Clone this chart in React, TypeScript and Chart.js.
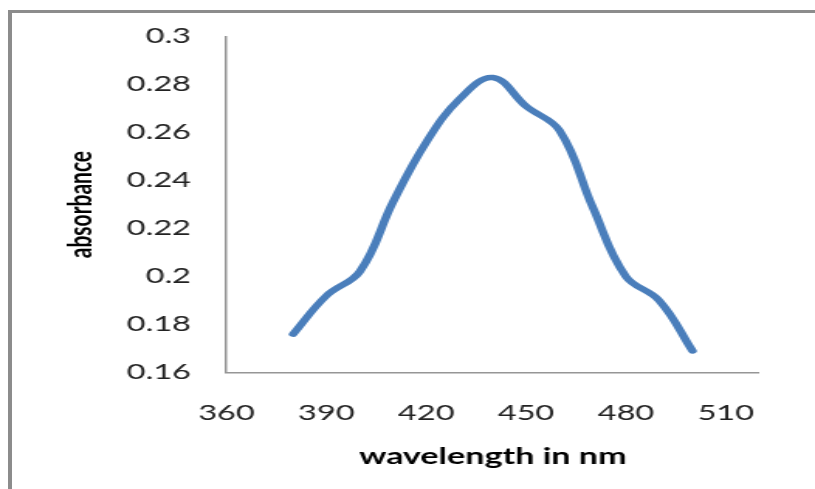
import React, { useEffect, useRef } from "react";
import { Chart, registerables } from "chart.js";

Chart.register(...registerables);

// ---- data ----
const wavelengths = [380, 390, 400, 410, 420, 430, 440, 450, 460, 470, 480, 490, 500];
const absorbance = [0.176, 0.192, 0.202, 0.231, 0.256, 0.274, 0.283, 0.271, 0.261, 0.229, 0.2, 0.19, 0.169];
const xTicks = [360, 390, 420, 450, 480, 510];
const xTickLabels = ["360", "390", "420", "450", "480", "510"];
const yTicks = [0.16, 0.18, 0.2, 0.22, 0.24, 0.26, 0.28, 0.3];
const yTickLabels = ["0.16", "0.18", "0.2", "0.22", "0.24", "0.26", "0.28", "0.3"];
const xTitle = "wavelength in nm";
const yTitle = "absorbance";

// the reference picture is horizontally stretched; render narrow and stretch
const W = 526;
const H = 489;
const STRETCH = 815 / W;
const FONT = "Lato, 'Open Sans', sans-serif";

export default function App() {
  const ref = useRef<HTMLCanvasElement | null>(null);

  useEffect(() => {
    if (!ref.current) return;
    const chart = new Chart(ref.current, {
      type: "line",
      data: {
        datasets: [
          {
            label: yTitle,
            data: wavelengths.map((x, i) => ({ x, y: absorbance[i] })),
            borderColor: "#4a7ebb",
            backgroundColor: "#4a7ebb",
            borderWidth: 5.5,
            borderCapStyle: "round",
            borderJoinStyle: "round",
            pointRadius: 0,
            tension: 0.4,
            fill: false,
          },
        ],
      },
      options: {
        animation: false,
        responsive: true,
        maintainAspectRatio: false,
        layout: { padding: { left: 0, right: 36.1, top: 36.7, bottom: 0 } },
        plugins: {
          legend: { display: false },
          tooltip: { enabled: false },
          title: { display: false },
        },
        scales: {
          x: {
            type: "linear",
            position: "bottom",
            min: 360,
            max: 520,
            afterBuildTicks: (s: any) => {
              s.ticks = xTicks.map((v) => ({ value: v }));
            },
            afterFit: (s: any) => {
              s.height = 116.5;
            },
            ticks: {
              autoSkip: false,
              maxRotation: 0,
              padding: 28.6,
              color: "#222",
              font: { family: FONT, size: 21 },
              callback: (v: any) => xTickLabels[xTicks.indexOf(Number(v))] ?? "",
            },
            grid: { display: false, drawTicks: false },
            border: { display: true, color: "#969696", width: 1.5 },
            title: {
              display: true,
              text: xTitle,
              color: "#000",
              font: { family: FONT, size: 22, weight: "bold" },
              padding: { top: 0, bottom: 18.6 },
            },
          },
          y: {
            type: "linear",
            min: 0.16,
            max: 0.3,
            afterBuildTicks: (s: any) => {
              s.ticks = yTicks.map((v) => ({ value: v }));
            },
            afterFit: (s: any) => {
              s.width = 146.2;
            },
            ticks: {
              autoSkip: false,
              padding: 22.9,
              color: "#222",
              font: { family: FONT, size: 21 },
              callback: (v: any) => yTickLabels[yTicks.indexOf(Number(v))] ?? "",
            },
            grid: { display: false, drawTicks: false },
            border: { display: true, color: "#969696", width: 1.5 },
            title: {
              display: true,
              text: yTitle,
              color: "#000",
              font: { family: FONT, size: 21, weight: "bold" },
              padding: { top: 40, bottom: 0 },
            },
          },
        },
      },
    });
    return () => chart.destroy();
  }, []);

  return (
    <div
      style={{
        position: "fixed",
        left: 0,
        top: 0,
        width: 815,
        height: 489,
        overflow: "hidden",
        background: "#fff",
      }}
    >
      <div
        style={{
          position: "absolute",
          left: 8,
          top: 10,
          width: 830,
          height: 520,
          boxSizing: "border-box",
          borderLeft: "4px solid #8c8c8c",
          borderTop: "3px solid #8c8c8c",
        }}
      />
      <div
        style={{
          position: "absolute",
          left: 0,
          top: 0,
          width: W,
          height: H,
          transform: `scaleX(${STRETCH})`,
          transformOrigin: "0 0",
        }}
      >
        <canvas ref={ref} />
      </div>
    </div>
  );
}
